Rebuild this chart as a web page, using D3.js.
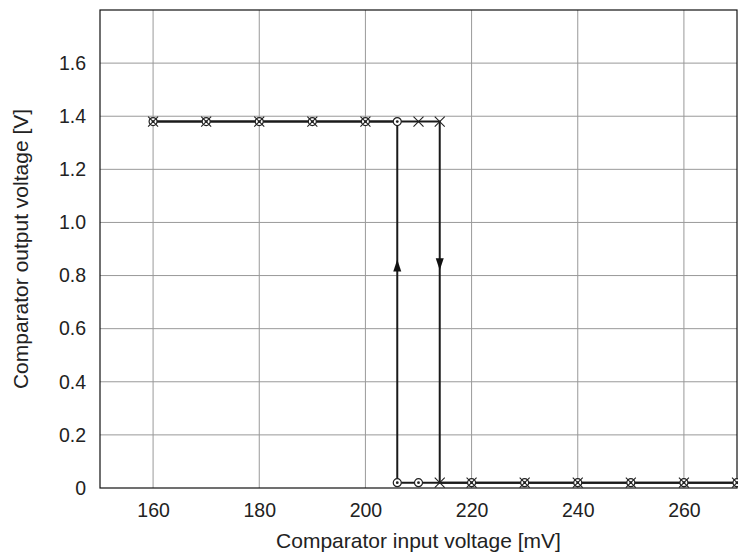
<!DOCTYPE html>
<html>
<head>
<meta charset="utf-8">
<script src="https://d3js.org/d3.v7.min.js"></script>
<style>
    body { margin: 0; padding: 0; background: #fff; }
    text { font-family: "Liberation Sans", Arial, sans-serif; fill: #222; }
</style>
</head>
<body>
<div id="chart"></div>
<script>
    // sweep with circle markers (input going down)
    let circleX = [160, 170, 180, 190, 200, 206, 206, 210, 220, 230, 240, 250, 260, 270];
    let circleY = [1.38, 1.38, 1.38, 1.38, 1.38, 1.38, 0.02, 0.02, 0.02, 0.02, 0.02, 0.02, 0.02, 0.02];
    // sweep with cross markers (input going up)
    let crossX = [160, 170, 180, 190, 200, 210, 214, 214, 220, 230, 240, 250, 260, 270];
    let crossY = [1.38, 1.38, 1.38, 1.38, 1.38, 1.38, 1.38, 0.02, 0.02, 0.02, 0.02, 0.02, 0.02, 0.02];
    // direction arrows
    let arrowX = [206, 214];
    let arrowY = [0.86, 0.82];
    let arrowDir = ["up", "down"];

    let xTicks = [160, 180, 200, 220, 240, 260];
    let yTicks = [0, 0.2, 0.4, 0.6, 0.8, 1.0, 1.2, 1.4, 1.6];

    let width = 738, height = 556;
    let margin = {left: 100, top: 10, right: 1, bottom: 68};

    let svg = d3.select("#chart").append("svg")
        .attr("width", width).attr("height", height);

    let x = d3.scaleLinear().domain([150, 270]).range([margin.left, width - margin.right]);
    let y = d3.scaleLinear().domain([0, 1.8]).range([height - margin.bottom, margin.top]);

    // grid
    svg.append("g").selectAll("line").data(xTicks).enter().append("line")
        .attr("x1", d => x(d)).attr("x2", d => x(d))
        .attr("y1", y(0)).attr("y2", y(1.8))
        .attr("stroke", "#999").attr("stroke-width", 1);
    svg.append("g").selectAll("line").data(yTicks.filter(d => d > 0)).enter().append("line")
        .attr("x1", x(150)).attr("x2", x(270))
        .attr("y1", d => y(d)).attr("y2", d => y(d))
        .attr("stroke", "#999").attr("stroke-width", 1);

    // frame
    svg.append("rect")
        .attr("x", x(150)).attr("y", y(1.8))
        .attr("width", x(270) - x(150)).attr("height", y(0) - y(1.8))
        .attr("fill", "none").attr("stroke", "#111").attr("stroke-width", 1.2);

    // axes (labels only)
    let xAxis = svg.append("g").attr("transform", "translate(0," + y(0) + ")")
        .call(d3.axisBottom(x).tickValues(xTicks).tickSize(0).tickPadding(15));
    let yAxis = svg.append("g").attr("transform", "translate(" + x(150) + ",0)")
        .call(d3.axisLeft(y).tickValues(yTicks).tickSize(0).tickPadding(14)
            .tickFormat(d => d === 0 ? "0" : d3.format(".1f")(d)));
    [xAxis, yAxis].forEach(a => {
        a.select(".domain").remove();
        a.selectAll("text").attr("font-size", 19.5)
            .attr("font-family", "Liberation Sans, Arial, sans-serif").attr("fill", "#222");
    });

    svg.append("text")
        .attr("x", (x(150) + x(270)) / 2).attr("y", 548)
        .attr("text-anchor", "middle").attr("font-size", 21)
        .text("Comparator input voltage [mV]");
    svg.append("text")
        .attr("transform", "translate(28," + (y(0) + y(1.8)) / 2 + ") rotate(-90)")
        .attr("text-anchor", "middle").attr("font-size", 21)
        .text("Comparator output voltage [V]");

    let line = d3.line().x(d => x(d[0])).y(d => y(d[1]));
    let circleData = d3.zip(circleX, circleY);
    let crossData = d3.zip(crossX, crossY);

    svg.append("path").datum(circleData).attr("d", line)
        .attr("fill", "none").attr("stroke", "#1a1a1a").attr("stroke-width", 2);
    svg.append("path").datum(crossData).attr("d", line)
        .attr("fill", "none").attr("stroke", "#1a1a1a").attr("stroke-width", 2);

    // arrows
    svg.append("g").selectAll("path").data(d3.zip(arrowX, arrowY, arrowDir)).enter().append("path")
        .attr("transform", d => "translate(" + x(d[0]) + "," + y(d[1]) + ")")
        .attr("d", d => d[2] === "up" ? "M0,0 L4,12 L-4,12 Z" : "M0,0 L4,-12 L-4,-12 Z")
        .attr("fill", "#111");

    // circle markers
    let cm = svg.append("g").selectAll("g").data(circleData).enter().append("g")
        .attr("transform", d => "translate(" + x(d[0]) + "," + y(d[1]) + ")");
    cm.append("circle").attr("r", 4).attr("fill", "#fff").attr("stroke", "#222").attr("stroke-width", 1.2);
    cm.append("circle").attr("r", 1.4).attr("fill", "#222");

    // cross markers
    svg.append("g").selectAll("path").data(crossData).enter().append("path")
        .attr("transform", d => "translate(" + x(d[0]) + "," + y(d[1]) + ")")
        .attr("d", "M-5,-5 L5,5 M-5,5 L5,-5")
        .attr("stroke", "#222").attr("stroke-width", 1.1).attr("fill", "none");
</script>
</body>
</html>
